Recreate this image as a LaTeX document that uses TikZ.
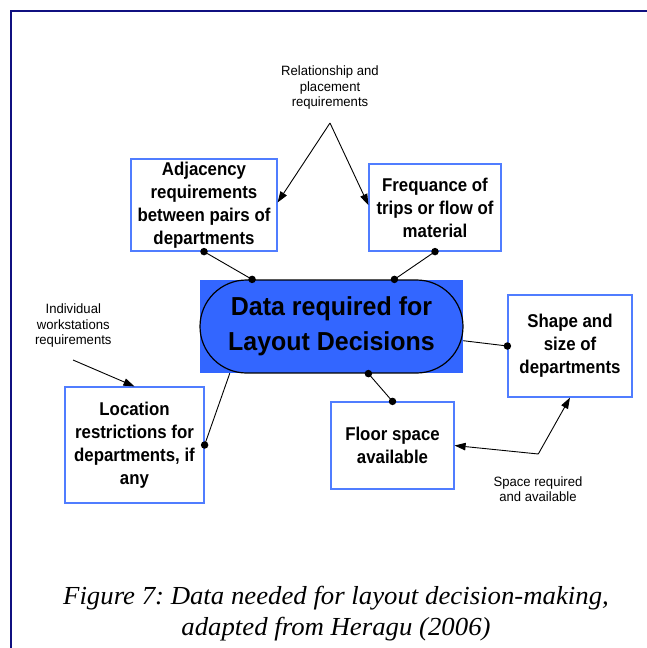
\documentclass[tikz,border=0pt]{standalone}
\usepackage{fontspec}
\setmainfont{Liberation Sans}
\newfontfamily\notefont{Liberation Sans}[FakeStretch=0.97]
\newfontfamily\boxfont{Liberation Sans Bold}[FakeStretch=0.91]
\newfontfamily\corefont{Liberation Sans Bold}[FakeStretch=0.96]
\newfontfamily\capfont{Liberation Serif Italic}[FakeStretch=1.03]
\usetikzlibrary{arrows.meta}
\definecolor{framenavy}{RGB}{16,16,128}
\definecolor{boxblue}{RGB}{80,125,255}
\definecolor{coreblue}{RGB}{51,102,255}
\frenchspacing

\begin{document}
\begin{tikzpicture}[x=1pt,y=-1pt,
  dept/.style={draw=boxblue, line width=1.2pt, fill=white, align=center,
    inner sep=0pt, font=\boxfont\fontsize{18.5}{23}\selectfont},
  note/.style={align=center, inner sep=0pt,
    font=\notefont\fontsize{13.5}{15.5}\selectfont},
  link/.style={line width=0.9pt},
  flow/.style={line width=0.9pt, -{Triangle[length=11pt,width=7.5pt]}},
  dot/.style={circle, fill=black, inner sep=0pt, minimum size=7.5pt}
]
\useasboundingbox (0,0) rectangle (647,648);

% page frame (top and left rules)
\draw[framenavy, line width=2pt] (647,11.3) -| (11,648);

% central topic: blue backdrop with a stadium outline
\node[fill=coreblue, minimum width=263pt, minimum height=93pt, inner sep=0pt]
  (corebg) at (331.5,326.5) {};
\node[draw=black, line width=1.2pt, rounded corners=46.5pt,
  minimum width=263pt, minimum height=93pt, inner sep=0pt, align=center,
  font=\corefont\fontsize{26}{35}\selectfont]
  (core) at (331.5,326.5) {Data required for\\Layout Decisions};

% department data boxes
\node[dept, minimum width=146pt, minimum height=92pt] (adj) at (204,205)
  {Adjacency\\requirements\\between pairs of\\departments};
\node[dept, minimum width=132pt, minimum height=87pt] (freq) at (435,207.5)
  {Frequance of\\trips or flow of\\material};
\node[dept, minimum width=139pt, minimum height=116pt] (loc) at (134.5,445)
  {Location\\restrictions for\\departments, if\\any};
\node[dept, minimum width=124pt, minimum height=102pt] (shape) at (570,346)
  {Shape and\\size of\\departments};
\node[dept, minimum width=123pt, minimum height=87pt] (floor) at (392.5,445.5)
  {Floor space\\available};

% annotations
\node[note] (rel) at (330,88) {Relationship and\\placement\\requirements};
\node[note] (ind) at (73.3,326) {Individual\\workstations\\requirements};
\node[note] (space) at (538,489) {Space required\\and available};

% attachment points on the central topic
\coordinate (cTL) at ([xshift=52.7pt]core.north west);
\coordinate (cTR) at ([xshift=195pt]core.north west);
\coordinate (cB)  at ([xshift=169pt]core.south west);
\coordinate (cR)  at ([yshift=-14.2pt]corebg.east);
\coordinate (cBL) at ([xshift=30pt]corebg.south west);

% links to the central topic
\draw[link] (adj.south) -- (cTL);
\draw[link] (freq.south) -- (cTR);
\draw[link] (floor.north) -- (cB);
\draw[link] (shape.west) -- (cR);
\draw[link] (loc.east) -- (cBL);

\node[dot] (d1) at (cTL) {};
\node[dot] (d2) at (cTR) {};
\node[dot] (d3) at (cB) {};
\node[dot] (d4) at (adj.south) {};
\node[dot] (d5) at (freq.south) {};
\node[dot] (d6) at (floor.north) {};
\node[dot] (d7) at (shape.west) {};
\node[dot] (d8) at (loc.east) {};

% annotation arrows
\coordinate (apex) at (330,123);
\draw[flow] (apex) -- ([yshift=2.5pt]adj.east);
\draw[flow] (apex) -- ([yshift=2.5pt]freq.west);
\coordinate (indTail) at (73,360);
\draw[flow] (indTail) -- (loc.north);
\coordinate (bend) at (538.3,454);
\draw[flow] (bend) -- (floor.east);
\draw[flow] (bend) -- (shape.south);

% caption
\node[align=center, inner sep=0pt, font=\capfont\fontsize{26}{31}\selectfont]
  (cap) at (336,614)
  {Figure 7: Data needed for layout decision-making,\\adapted from Heragu (2006)};
\end{tikzpicture}
\end{document}
